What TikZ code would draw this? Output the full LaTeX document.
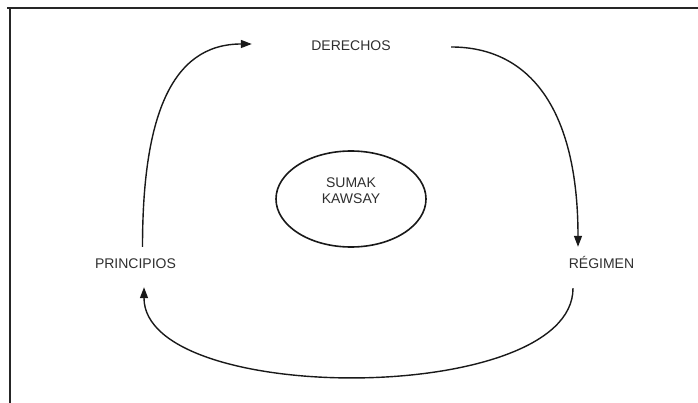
\documentclass[tikz,border=0pt]{standalone}
\usepackage{fontspec}
\setmainfont{Liberation Sans}
\usetikzlibrary{arrows.meta,shapes.geometric}
\begin{document}
\begin{tikzpicture}[x=1pt,y=-1pt,
  lbl/.style={font=\fontsize{14}{16}\selectfont, text=black!82, inner sep=0pt, text height=10pt, text depth=0pt},
  conn/.style={line width=1.4pt, black!90, -{Triangle[length=11pt,width=8pt]}},
  frame/.style={line width=2pt, black!85}]
\useasboundingbox (0,0) rectangle (698,403);
\draw[frame] (7,8) -- (698,8);
\draw[frame] (10,8) -- (10,403);
\node[lbl] (der) at (351,45.5) {DERECHOS};
\node[lbl] (prin) at (135.5,263) {PRINCIPIOS};
\node[lbl] (reg) at (601.5,264) {RÉGIMEN};
\node[draw, ellipse, minimum width=150pt, minimum height=96pt, line width=1.6pt, black!90] (sk) at (351,199) {};
\node[lbl, align=center, text height=, text depth=] (skt) at (351,191) {SUMAK\\KAWSAY};
\draw[conn] ([shift={(7,-11)}]prin.north) .. controls +(0,-127) and +(-82,0) .. ([shift={(-59.3,-1.5)}]der.west);
\draw[conn] ([shift={(60.3,1.5)}]der.east) .. controls +(79,0) and +(0,-137) .. ([shift={(-23.5,-12)}]reg.north);
\draw[conn] ([shift={(-28.5,19)}]reg.south) .. controls +(0,118) and +(0,119) .. ([shift={(8.5,19)}]prin.south);
\end{tikzpicture}
\end{document}
